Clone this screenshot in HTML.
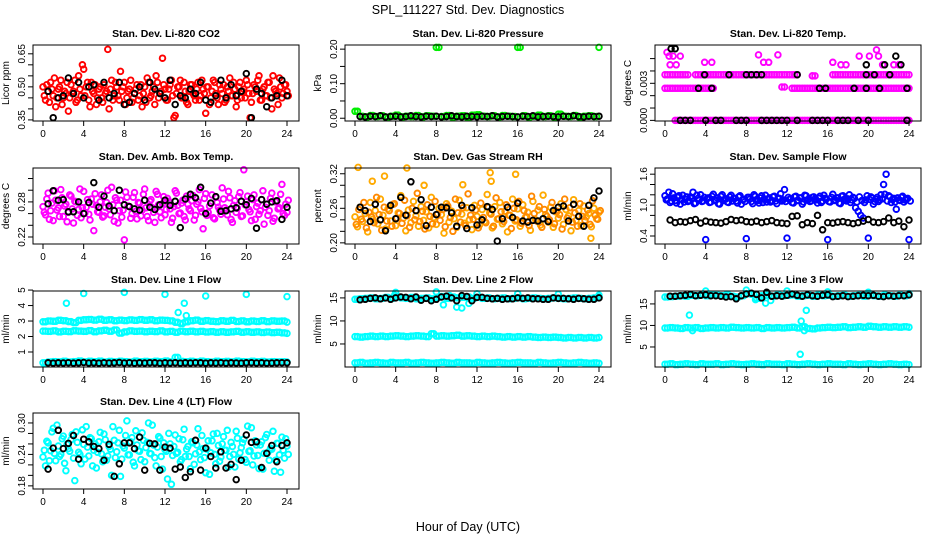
<!DOCTYPE html>
<html><head><meta charset="utf-8"><title>SPL_111227 Std. Dev. Diagnostics</title>
<style>
html,body{margin:0;padding:0;background:#fff;}
svg{display:block;font-family:"Liberation Sans",Arial,sans-serif;}
</style></head>
<body>
<svg id="chart" width="936" height="540" viewBox="0 0 936 540">
<text x="468" y="14" text-anchor="middle" font-size="12.5">SPL_111227  Std. Dev. Diagnostics</text>
<text x="468" y="531" text-anchor="middle" font-size="12.5">Hour of Day (UTC)</text>
</svg>
<script>
// ---------- data ----------
const co2Red=[0.50,0.44,0.48,0.52,0.46,0.41,0.49,0.53,0.45,0.47,0.39,0.51,0.48,0.43,0.55,0.46,0.58,0.50,0.44,0.52,0.47,0.42,0.49,0.45,0.51,0.48,0.40,0.53,0.46,0.50,0.44,0.48,0.52,0.45,0.49,0.43,0.47,0.51,0.46,0.41,0.50,0.54,0.45,0.48,0.42,0.52,0.47,0.63,0.49,0.44,0.51,0.46,0.37,0.50,0.53,0.45,0.48,0.42,0.51,0.47,0.44,0.52,0.46,0.49,0.38,0.50,0.45,0.53,0.47,0.42,0.49,0.51,0.44,0.48,0.46,0.52,0.41,0.50,0.45,0.49,0.53,0.47,0.43,0.51,0.48,0.55,0.44,0.50,0.46,0.52,0.40,0.49,0.47,0.54,0.45,0.51,0.48];
const co2Red2=[0.46,0.51,0.43,0.49,0.54,0.45,0.50,0.42,0.48,0.52,0.45,0.47,0.53,0.44,0.49,0.60,0.46,0.52,0.41,0.48,0.51,0.45,0.50,0.43,0.47,0.67,0.49,0.44,0.52,0.46,0.57,0.50,0.42,0.48,0.53,0.45,0.49,0.44,0.51,0.47,0.43,0.52,0.46,0.50,0.55,0.45,0.48,0.51,0.44,0.49,0.53,0.36,0.47,0.50,0.45,0.52,0.43,0.48,0.51,0.46,0.49,0.44,0.53,0.47,0.50,0.42,0.48,0.52,0.45,0.51,0.47,0.43,0.50,0.54,0.46,0.49,0.44,0.52,0.48,0.45,0.51,0.36,0.47,0.50,0.53,0.44,0.49,0.46,0.52,0.45,0.55,0.48,0.42,0.50,0.47,0.51,0.46];
const co2Black=[0.48,0.36,0.45,0.46,0.54,0.47,0.52,0.45,0.50,0.51,0.44,0.52,0.45,0.47,0.52,0.42,0.43,0.47,0.50,0.44,0.52,0.49,0.47,0.45,0.53,0.42,0.46,0.45,0.49,0.47,0.52,0.44,0.43,0.46,0.53,0.45,0.51,0.46,0.48,0.56,0.36,0.49,0.47,0.41,0.45,0.46,0.53,0.46];
const presGreen=[0.02,0.006,0.004,0.008,0.005,0.007,0.003,0.006,0.009,0.004,0.006,0.005,0.008,0.004,0.007,0.006,0.205,0.005,0.008,0.004,0.006,0.007,0.003,0.009,0.010,0.006,0.005,0.007,0.004,0.008,0.006,0.005,0.205,0.007,0.004,0.006,0.009,0.005,0.007,0.004,0.012,0.006,0.005,0.008,0.004,0.006,0.007,0.005,0.205];
const presBlack=[0.005,0.004,0.006,0.005,0.007,0.004,0.005,0.006,0.004,0.005,0.007,0.005,0.004,0.006,0.005,0.006,0.004,0.005,0.007,0.005,0.004,0.006,0.005,0.004,0.006,0.005,0.007,0.004,0.005,0.006,0.005,0.004,0.006,0.005,0.007,0.004,0.005,0.006,0.005,0.004,0.006,0.005,0.007,0.005,0.004,0.006,0.005,0.006];
const N=null;
const tempLvl0=[N,N,0,0,0,0,0,0,0,0,0,0,0,0,0,0,0,0,0,0,0,0,0,0,0,0,0,0,0,0,0,0,0,0,0,0,0,0,0,0,0,0,0,0,0,0,0,0,0];
const tempLvl26=[0.0026,0.0026,0.0026,0.0026,0.0026,0.0026,0.0026,0.0026,0.0026,0.0026,N,N,N,N,N,N,N,N,N,N,N,N,N,0.0027,N,0.0026,0.0026,0.0026,0.0026,0.0026,0.0026,0.0026,0.0026,0.0026,0.0026,0.0026,0.0026,0.0026,0.0026,0.0026,0.0026,0.0026,0.0026,0.0026,0.0026,0.0026,0.0026,0.0026,0.0026];
const tempLvl37=[0.0037,0.0037,0.0037,0.0037,0.0037,N,0.0037,0.0037,0.0037,0.0037,0.0037,0.0037,0.0037,0.0037,0.0037,0.0037,0.0037,0.0037,0.0037,0.0037,0.0037,0.0037,0.0037,0.0037,0.0037,0.0037,N,N,N,0.0036,N,N,N,0.0037,0.0037,0.0037,0.0037,0.0037,0.0037,0.0037,0.0037,0.0037,0.0037,0.0037,0.0037,0.0037,0.0037,0.0037,0.0037];
const tempMagX=[0.2,0.4,0.8,1.5,0.5,1.1,3.9,4.6,9.2,9.7,10.2,11.1,16.5,17.3,17.8,19.1,20.1,20.8,21.0,21.4,22.5,23.0,13.0,14.5];
const tempMagY=[0.0055,0.0052,0.0052,0.0052,0.0045,0.0045,0.0047,0.0047,0.0053,0.0047,0.0047,0.0053,0.0047,0.0045,0.0045,0.0052,0.0052,0.0057,0.0052,0.0045,0.0045,0.0045,0.0037,0.0036];
const tempBlackX=[1.5,2,2.5,4,5,5.5,7,7.5,8,9.5,10,10.5,11,11.5,12,13,14.5,15,15.5,16,17,17.5,18,19,20,23.8,3.3,4.6,15.2,15.8,18.6,19.8,21.1,23.8,3.9,6.3,8,8.5,9,9.5,13,19.8,20.6,22.1,0.6,1.0,19.8,21.6,23.2,22.7];
const tempBlackY=[0,0,0,0,0,0,0,0,0,0,0,0,0,0,0,0,0,0,0,0,0,0,0,0,0,0,0.0026,0.0026,0.0026,0.0026,0.0026,0.0026,0.0026,0.0026,0.0037,0.0037,0.0037,0.0037,0.0037,0.0037,0.0037,0.0037,0.0037,0.0037,0.0058,0.0058,0.0045,0.0045,0.0045,0.0052];
const ambMag=[0.272,0.258,0.295,0.265,0.248,0.283,0.270,0.301,0.255,0.276,0.262,0.290,0.244,0.280,0.267,0.253,0.298,0.271,0.259,0.285,0.231,0.274,0.262,0.292,0.256,0.279,0.268,0.305,0.247,0.283,0.265,0.254,0.215,0.288,0.272,0.260,0.296,0.251,0.278,0.266,0.302,0.255,0.281,0.270,0.245,0.293,0.263,0.277,0.258,0.286,0.268,0.252,0.299,0.274,0.261,0.283,0.249,0.276,0.265,0.291,0.257,0.280,0.269,0.234,0.294,0.262,0.278,0.253,0.288,0.271,0.259,0.285,0.266,0.298,0.250,0.274,0.262,0.289,0.255,0.335,0.280,0.267,0.248,0.292,0.272,0.259,0.284,0.242,0.276,0.265,0.295,0.252,0.281,0.270,0.310,0.257,0.262];
const ambMag2=[0.262,0.285,0.250,0.278,0.299,0.266,0.255,0.287,0.273,0.246,0.292,0.268,0.281,0.257,0.302,0.270,0.261,0.284,0.249,0.276,0.294,0.263,0.280,0.254,0.271,0.300,0.258,0.275,0.287,0.244,0.283,0.266,0.297,0.273,0.252,0.288,0.264,0.279,0.256,0.293,0.270,0.248,0.284,0.262,0.298,0.275,0.253,0.289,0.267,0.281,0.245,0.272,0.295,0.260,0.278,0.255,0.290,0.268,0.282,0.249,0.276,0.301,0.263,0.286,0.257,0.273,0.292,0.251,0.279,0.266,0.304,0.270,0.258,0.287,0.245,0.282,0.269,0.296,0.256,0.275,0.290,0.263,0.284,0.250,0.278,0.265,0.299,0.271,0.257,0.286,0.247,0.280,0.268,0.293,0.260,0.276,0.283];
const ambBlack=[0.277,0.299,0.283,0.284,0.263,0.263,0.280,0.260,0.279,0.313,0.271,0.290,0.273,0.265,0.300,0.275,0.272,0.268,0.266,0.283,0.271,0.267,0.275,0.283,0.274,0.281,0.236,0.285,0.293,0.287,0.305,0.260,0.278,0.289,0.264,0.265,0.268,0.270,0.281,0.275,0.286,0.235,0.284,0.276,0.280,0.282,0.250,0.271];
const rhOrange=[0.245,0.228,0.262,0.237,0.251,0.219,0.270,0.241,0.256,0.233,0.276,0.248,0.224,0.259,0.238,0.267,0.230,0.252,0.282,0.243,0.221,0.257,0.235,0.272,0.247,0.229,0.263,0.239,0.254,0.226,0.279,0.244,0.232,0.260,0.249,0.217,0.268,0.236,0.255,0.242,0.227,0.274,0.250,0.234,0.261,0.240,0.223,0.265,0.246,0.231,0.258,0.237,0.284,0.252,0.226,0.263,0.241,0.270,0.233,0.255,0.219,0.248,0.276,0.238,0.259,0.229,0.266,0.244,0.253,0.222,0.272,0.240,0.257,0.231,0.283,0.249,0.236,0.262,0.227,0.254,0.243,0.268,0.232,0.258,0.247,0.221,0.275,0.239,0.256,0.230,0.264,0.245,0.251,0.228,0.260,0.242,0.253];
const rhOrange2=[0.232,0.258,0.241,0.270,0.226,0.253,0.245,0.235,0.279,0.249,0.222,0.262,0.238,0.256,0.229,0.268,0.243,0.251,0.234,0.274,0.247,0.227,0.260,0.240,0.286,0.237,0.255,0.224,0.266,0.246,0.233,0.272,0.250,0.239,0.258,0.228,0.264,0.244,0.220,0.276,0.252,0.236,0.261,0.230,0.285,0.248,0.241,0.257,0.226,0.269,0.244,0.235,0.262,0.250,0.229,0.278,0.242,0.254,0.237,0.266,0.248,0.225,0.260,0.240,0.272,0.234,0.256,0.245,0.230,0.281,0.251,0.238,0.263,0.227,0.258,0.246,0.240,0.270,0.233,0.255,0.249,0.224,0.276,0.243,0.261,0.236,0.252,0.229,0.268,0.246,0.239,0.257,0.232,0.273,0.248,0.241,0.256];
const rhExtraX=[0.3,5.1,13.3,15.8,2.9,1.7,13.4,23.2,6.8,10.6];
const rhExtraY=[0.331,0.330,0.322,0.319,0.316,0.307,0.307,0.208,0.300,0.301];
const rhBlack=[0.262,0.256,0.237,0.267,0.240,0.221,0.265,0.242,0.279,0.248,0.306,0.256,0.275,0.230,0.262,0.249,0.262,0.261,0.252,0.229,0.265,0.225,0.261,0.231,0.240,0.263,0.258,0.203,0.242,0.262,0.244,0.269,0.238,0.236,0.239,0.238,0.242,0.237,0.256,0.262,0.264,0.238,0.267,0.246,0.229,0.265,0.278,0.290];
const flowBlue=[1.18,1.12,1.05,1.22,1.09,1.15,1.02,1.19,1.11,1.07,1.16,1.25,1.04,1.13,1.20,1.08,0.33,1.14,1.06,1.21,1.10,1.03,1.17,1.09,1.12,1.05,1.19,1.13,1.08,1.16,1.02,1.11,0.35,1.15,1.07,1.20,1.10,1.04,1.18,1.12,1.06,1.14,1.09,1.17,1.03,1.13,1.08,1.30,0.36,1.11,1.05,1.16,1.09,1.14,1.02,1.19,1.10,1.07,1.15,1.12,1.04,1.17,1.08,1.13,0.33,1.06,1.21,1.10,1.14,1.03,1.18,1.09,1.12,1.05,1.15,0.95,0.88,0.80,0.75,1.10,0.36,1.16,1.02,1.11,1.07,1.20,1.40,1.60,1.18,1.05,1.13,0.92,1.10,1.15,1.06,1.12,0.33];
const flowBlue2=[1.10,1.25,1.08,1.14,1.04,1.18,1.11,1.06,1.16,1.09,1.13,1.03,1.19,1.10,1.07,1.15,1.12,1.05,1.17,1.09,1.14,1.02,1.20,1.11,1.06,1.16,1.08,1.13,1.04,1.18,1.10,1.07,1.15,1.12,1.03,1.17,1.09,1.14,1.05,1.19,1.11,1.06,1.16,1.08,1.13,1.22,1.10,1.07,1.15,1.12,1.04,1.17,1.09,1.14,1.06,1.18,1.11,1.08,1.16,1.10,1.13,1.05,1.19,1.12,1.07,1.15,1.09,1.14,1.04,1.17,1.11,1.08,1.20,1.10,1.13,1.06,1.16,1.09,1.05,1.18,1.11,1.14,1.07,1.15,1.10,1.12,1.21,1.08,1.16,1.11,1.06,1.14,1.09,1.17,1.10,1.13,1.08];
const flowBlack=[0.71,0.66,0.68,0.67,0.70,0.72,0.65,0.69,0.67,0.66,0.65,0.68,0.72,0.70,0.71,0.68,0.67,0.69,0.66,0.68,0.70,0.66,0.65,0.64,0.78,0.79,0.62,0.66,0.64,0.80,0.52,0.66,0.65,0.67,0.68,0.66,0.64,0.66,0.69,0.72,0.67,0.66,0.68,0.75,0.66,0.69,0.58,0.71];
const l1High=[2.95,3.00,2.98,3.05,3.02,2.96,2.90,3.04,3.08,3.10,3.06,3.12,3.05,3.08,3.02,3.06,3.03,3.07,3.04,3.09,3.05,3.08,3.02,3.06,3.04,3.01,2.92,2.85,2.95,3.02,3.06,2.98,3.03,2.99,2.96,3.02,2.98,3.04,2.97,3.01,2.95,3.00,2.97,3.02,2.96,3.01,2.98,3.00,2.93];
const l1Mid=[2.35,2.33,2.36,2.30,2.34,2.32,2.37,2.35,2.33,2.38,2.31,2.36,2.40,2.34,2.42,2.22,2.30,2.36,2.33,2.35,2.31,2.34,2.32,2.36,2.30,2.33,2.28,2.35,2.31,2.34,2.30,2.33,2.29,2.32,2.28,2.31,2.27,2.30,2.33,2.28,2.31,2.27,2.30,2.26,2.29,2.25,2.28,2.23,2.20];
const l1Low=[0.30,0.35,0.38,0.36,0.40,0.35,0.38,0.42,0.36,0.40,0.37,0.41,0.35,0.39,0.36,0.40,0.38,0.35,0.41,0.37,0.39,0.36,0.40,0.38,0.42,0.36,0.65,0.39,0.37,0.40,0.36,0.41,0.38,0.35,0.40,0.37,0.39,0.36,0.41,0.38,0.36,0.40,0.37,0.39,0.35,0.38,0.36,0.37,0.35];
const l1ExtraX=[2.3,4,8,12,16,20,24,13.9,13.3,14.1];
const l1ExtraY=[4.15,4.78,4.85,4.72,4.62,4.72,4.58,4.15,3.55,3.35];
const l1Black=[0.30,0.28,0.30,0.29,0.31,0.28,0.30,0.32,0.29,0.30,0.28,0.31,0.29,0.30,0.32,0.29,0.31,0.28,0.30,0.29,0.31,0.30,0.28,0.30,0.29,0.31,0.28,0.30,0.29,0.31,0.30,0.28,0.30,0.29,0.31,0.28,0.30,0.29,0.28,0.30,0.31,0.29,0.30,0.28,0.29,0.30,0.31,0.30];
const l2High=[14.7,14.8,14.9,15.0,14.8,14.9,15.1,14.9,15.2,15.0,14.9,15.1,14.8,14.9,15.0,14.8,15.1,15.3,14.9,15.2,15.0,15.1,15.2,14.9,15.1,14.9,15.0,14.8,14.9,15.0,14.8,14.9,15.0,14.8,14.9,15.0,14.9,14.8,14.9,15.0,14.9,14.8,14.9,15.0,14.9,14.8,14.9,15.0,15.2];
const l2Mid=[6.6,6.5,6.6,6.7,6.6,6.7,6.6,6.7,6.8,6.7,6.6,6.7,6.8,6.7,6.6,7.2,6.7,6.8,6.7,6.8,6.9,6.7,6.8,6.7,6.6,6.7,6.6,6.7,6.6,6.5,6.6,6.5,6.6,6.5,6.6,6.5,6.4,6.5,6.4,6.5,6.4,6.3,6.4,6.3,6.4,6.3,6.4,6.3,6.4];
const l2Low=[0.9,1.0,0.8,0.9,1.0,0.9,0.8,1.0,0.9,0.9,1.0,0.8,0.9,1.0,0.9,0.8,0.9,1.0,0.9,0.8,1.0,0.9,0.9,0.8,1.0,0.9,0.8,0.9,1.0,0.9,0.8,0.9,1.0,0.9,0.9,0.8,1.0,0.9,0.8,0.9,1.0,0.9,0.8,0.9,1.0,0.9,0.8,0.9,0.8];
const l2ExtraX=[4,8,12,16,20,24,8.7,10,10.5,11.2,3.9,9.3];
const l2ExtraY=[16.2,16.3,15.9,15.9,15.8,15.6,13.5,13.0,12.8,13.8,15.6,15.5];
const l2Black=[14.6,14.7,14.9,15.0,14.8,15.0,14.7,15.0,15.2,15.1,14.8,15.2,14.5,14.9,14.4,14.7,15.2,15.4,15.0,14.4,15.5,15.3,14.4,15.1,15.1,14.9,14.8,14.9,14.7,14.8,14.8,15.0,14.9,15.0,14.8,14.8,14.7,14.7,15.0,14.9,14.9,14.8,14.7,14.9,14.8,14.7,14.7,15.0];
const l3High=[16.6,16.7,16.8,16.9,16.8,17.0,16.9,17.1,16.9,17.2,17.0,16.9,17.1,16.8,16.6,16.9,17.4,17.2,16.3,16.9,17.0,16.8,17.1,16.9,17.0,17.1,16.8,16.9,17.0,16.8,17.1,16.9,17.0,16.8,16.9,17.0,16.8,16.9,17.0,16.8,17.1,16.9,16.8,17.0,16.9,16.8,17.0,16.9,17.1];
const l3Mid=[9.4,9.5,9.4,9.3,9.5,9.4,9.5,9.3,9.4,9.5,9.4,9.5,9.4,9.6,9.5,9.4,9.5,9.4,9.5,9.3,9.5,9.4,9.5,9.4,9.5,9.6,9.4,9.7,9.3,9.2,9.4,9.5,9.6,9.5,9.6,9.7,9.5,9.6,9.7,9.6,9.8,9.7,9.6,9.7,9.6,9.7,9.6,9.7,9.6];
const l3Low=[1.0,1.1,0.9,1.0,1.1,1.0,0.9,1.1,1.0,1.0,1.1,0.9,1.0,1.1,1.0,0.9,1.0,1.1,1.0,0.9,1.1,1.0,1.0,0.9,1.1,1.0,0.9,1.0,1.1,1.0,0.9,1.0,1.1,1.0,1.0,0.9,1.1,1.0,0.9,1.0,1.1,1.0,0.9,1.0,1.1,1.0,0.9,1.0,0.9];
const l3ExtraX=[2.4,13.3,13.4,13.9,13.7,2.7,9.9,4,8,12,16,20,24,8.9,10.4];
const l3ExtraY=[12.4,3.3,11.0,13.5,8.8,8.8,15.2,18.0,18.2,18.0,17.8,17.7,17.4,16.0,15.8];
const l3Black=[16.8,16.8,16.9,17.0,17.2,16.9,17.0,17.1,16.9,16.9,16.8,16.6,16.7,16.2,16.9,17.3,17.5,17.2,16.4,17.7,16.8,16.9,16.8,17.0,17.3,17.0,16.8,17.1,16.9,16.8,17.0,17.1,16.7,16.8,16.9,16.7,16.8,16.9,17.0,16.9,17.0,16.8,16.7,16.9,16.8,16.9,16.9,17.1];
const l4Cyan=[0.235,0.218,0.262,0.247,0.290,0.228,0.256,0.240,0.275,0.209,0.251,0.268,0.233,0.283,0.244,0.222,0.259,0.293,0.237,0.270,0.248,0.214,0.264,0.241,0.279,0.229,0.255,0.200,0.267,0.245,0.286,0.231,0.252,0.304,0.239,0.272,0.218,0.258,0.246,0.281,0.226,0.263,0.242,0.296,0.234,0.254,0.271,0.212,0.249,0.193,0.260,0.238,0.277,0.244,0.226,0.268,0.236,0.255,0.213,0.262,0.241,0.289,0.230,0.251,0.205,0.266,0.243,0.279,0.222,0.257,0.235,0.274,0.248,0.216,0.263,0.240,0.284,0.231,0.253,0.269,0.225,0.246,0.291,0.237,0.258,0.213,0.264,0.242,0.278,0.229,0.250,0.208,0.261,0.239,0.273,0.233,0.256];
const l4Cyan2=[0.248,0.265,0.228,0.283,0.242,0.296,0.236,0.270,0.223,0.259,0.246,0.278,0.190,0.263,0.240,0.287,0.231,0.254,0.272,0.218,0.260,0.244,0.282,0.226,0.268,0.237,0.250,0.293,0.234,0.262,0.198,0.256,0.276,0.239,0.264,0.225,0.285,0.247,0.230,0.267,0.253,0.300,0.241,0.258,0.218,0.274,0.236,0.262,0.246,0.280,0.183,0.255,0.242,0.270,0.230,0.288,0.250,0.236,0.264,0.221,0.258,0.245,0.276,0.234,0.250,0.202,0.266,0.240,0.280,0.227,0.260,0.248,0.286,0.236,0.255,0.216,0.271,0.243,0.262,0.230,0.294,0.247,0.220,0.266,0.238,0.258,0.212,0.272,0.244,0.252,0.284,0.229,0.261,0.206,0.248,0.270,0.240];
const l4Black=[0.212,0.252,0.286,0.251,0.261,0.276,0.231,0.269,0.264,0.255,0.251,0.229,0.259,0.198,0.222,0.262,0.262,0.251,0.273,0.210,0.261,0.260,0.210,0.254,0.252,0.212,0.216,0.196,0.207,0.267,0.210,0.252,0.236,0.214,0.245,0.214,0.221,0.192,0.229,0.277,0.263,0.264,0.215,0.242,0.257,0.226,0.257,0.262];
const xTicks=[0,4,8,12,16,20,24];

// ---------- layout ----------
const colLeft=[33,345,655], colW=266, rowTop=[45,168,291,413], rowH=76;
const svg=document.getElementById('chart');
const NS='http://www.w3.org/2000/svg';
function mk(tag,attrs,parent){const e=document.createElementNS(NS,tag);for(const k in attrs)e.setAttribute(k,attrs[k]);(parent||svg).appendChild(e);return e;}
function evenHours(n){const a=[];for(let i=0;i<n;i++)a.push(24*i/(n-1));return a;}
function blackHours(n){const a=[];for(let i=0;i<n;i++)a.push(0.5+23.5*i/(n-1));return a;}

function panel(name,title,ylab,col,row,ymin,ymax,ticks,labels,series){
  const L=colLeft[col],T=rowTop[row],R=L+colW,B=T+rowH;
  const g=mk('g',{});
  
  
  const xs=h=>L+10+h*(colW-22)/24;
  const ys=v=>B-(v-ymin)/(ymax-ymin)*rowH;
  const t=mk('text',{x:(L+R)/2,y:T-8,'text-anchor':'middle','font-size':'10.5','font-weight':'bold'},g);
  t.textContent=title;
  
  
  const yl=mk('text',{x:0,y:0,'text-anchor':'middle','font-size':'10',transform:`translate(${L-24},${(T+B)/2}) rotate(-90)`},g);
  yl.textContent=ylab;
  
  
  const pg=mk('g',{fill:'none'},g);
  
  
  series.forEach(s=>{
    const shifts=s.dup?[0,0.25]:[0];
    shifts.forEach(sh=>{
      for(let i=0;i<s.y.length;i++){
        if(s.y[i]===null)continue;
        if(s.x[i]+sh>24.2)continue;
        const c=mk('circle',{cx:xs(s.x[i]+sh).toFixed(1),cy:ys(s.y[i]).toFixed(1),r:s.r||2.8,stroke:s.c,'stroke-width':s.w||1.9},pg);
        
        
      }
    });
  });
  const bx=mk('rect',{x:L,y:T,width:colW,height:rowH,fill:'none',stroke:'#000','stroke-width':1},g);
  
  
  const xa=mk('g',{},g);
  
  
  xTicks.forEach(v=>{
    mk('line',{x1:xs(v),x2:xs(v),y1:B,y2:B+5,stroke:'#000'},xa);
    const tl=mk('text',{x:xs(v),y:B+16,'text-anchor':'middle','font-size':'10'},xa);
    tl.textContent=v;
  });
  const ya=mk('g',{},g);
  
  
  mk('line',{x1:L,x2:L,y1:ys(ticks[0]),y2:ys(ticks[ticks.length-1]),stroke:'#000'},ya);
  ticks.forEach(v=>{mk('line',{x1:L-5,x2:L,y1:ys(v),y2:ys(v),stroke:'#000'},ya);});
  labels.forEach(lb=>{
    const tl=mk('text',{x:0,y:0,'text-anchor':'middle','font-size':'10',transform:`translate(${L-8},${ys(parseFloat(lb))}) rotate(-90)`},ya);
    tl.textContent=lb;
  });
}
const H97=evenHours(97),H49=evenHours(49),HB=blackHours(48);
const RED='#ff0000',BLK='#000000',CY='#00ffff',MAG='#ff00ff';

panel('co2','Stan. Dev. Li-820 CO2','Licor ppm',0,0,0.345,0.69,[0.35,0.40,0.45,0.50,0.55,0.60,0.65],['0.35','0.50','0.65'],
 [{x:H97,y:co2Red,c:RED,n:'co2-red'},{x:H97.map(h=>h+0.125),y:co2Red2,c:RED,n:'co2-red'},{x:HB,y:co2Black,c:BLK,n:'co2-black'}]);
panel('pressure','Stan. Dev. Li-820 Pressure','kPa',1,0,-0.008,0.212,[0,0.05,0.10,0.15,0.20],['0.00','0.10','0.20'],
 [{x:H49,y:presGreen,c:'#00ee00',n:'pressure-green',dup:true},{x:HB,y:presBlack,c:BLK,n:'pressure-black'}]);
panel('temp','Stan. Dev. Li-820 Temp.','degrees C',2,0,-0.00005,0.0061,[0,0.001,0.002,0.003,0.004,0.005],['0.000','0.003'],
 [{x:H49,y:tempLvl0,c:MAG,n:'temp-magenta',dup:true},{x:H49,y:tempLvl26,c:MAG,n:'temp-magenta',dup:true},{x:H49,y:tempLvl37,c:MAG,n:'temp-magenta',dup:true},{x:tempMagX,y:tempMagY,c:MAG,n:'temp-magenta'},{x:tempBlackX,y:tempBlackY,c:BLK,n:'temp-black'}]);
panel('amb-box','Stan. Dev. Amb. Box Temp.','degrees C',0,1,0.208,0.338,[0.22,0.24,0.26,0.28,0.30,0.32],['0.22','0.28'],
 [{x:H97,y:ambMag,c:MAG,n:'amb-magenta'},{x:H97.map(h=>h+0.125),y:ambMag2,c:MAG,n:'amb-magenta'},{x:HB,y:ambBlack,c:BLK,n:'amb-black'}]);
panel('rh','Stan. Dev. Gas Stream RH','percent',1,1,0.198,0.330,[0.20,0.22,0.24,0.26,0.28,0.30,0.32],['0.20','0.26','0.32'],
 [{x:H97,y:rhOrange,c:'#ffaa00',n:'rh-orange'},{x:H97.map(h=>h+0.125),y:rhOrange2,c:'#ff8800',n:'rh-orange'},{x:rhExtraX,y:rhExtraY,c:'#ffaa00',n:'rh-orange'},{x:HB,y:rhBlack,c:BLK,n:'rh-black'}]);
panel('sample-flow','Stan. Dev. Sample Flow','ml/min',2,1,0.245,1.72,[0.4,0.6,0.8,1.0,1.2,1.4,1.6],['0.4','1.0','1.6'],
 [{x:H97,y:flowBlue,c:'#0000ff',n:'flow-blue'},{x:H97.map(h=>h+0.125),y:flowBlue2,c:'#0000ff',n:'flow-blue'},{x:HB,y:flowBlack,c:BLK,n:'flow-black'}]);
panel('line1','Stan. Dev. Line 1 Flow','ml/min',0,2,0.03,4.94,[1,2,3,4,5],['1','2','3','4','5'],
 [{x:H49,y:l1High,c:CY,n:'line1-cyan',dup:true},{x:H49,y:l1Mid,c:CY,n:'line1-cyan',dup:true},{x:H49,y:l1Low,c:CY,n:'line1-cyan',dup:true},{x:l1ExtraX,y:l1ExtraY,c:CY,n:'line1-cyan'},{x:HB,y:l1Black,c:BLK,n:'line1-black'}]);
panel('line2','Stan. Dev. Line 2 Flow','ml/min',1,2,0,16.5,[5,10,15],['5','10','15'],
 [{x:H49,y:l2High,c:CY,n:'line2-cyan',dup:true},{x:H49,y:l2Mid,c:CY,n:'line2-cyan',dup:true},{x:H49,y:l2Low,c:CY,n:'line2-cyan',dup:true},{x:l2ExtraX,y:l2ExtraY,c:CY,n:'line2-cyan'},{x:HB,y:l2Black,c:BLK,n:'line2-black'}]);
panel('line3','Stan. Dev. Line 3 Flow','ml/min',2,2,0.35,18.0,[5,10,15],['5','10','15'],
 [{x:H49,y:l3High,c:CY,n:'line3-cyan',dup:true},{x:H49,y:l3Mid,c:CY,n:'line3-cyan',dup:true},{x:H49,y:l3Low,c:CY,n:'line3-cyan',dup:true},{x:l3ExtraX,y:l3ExtraY,c:CY,n:'line3-cyan'},{x:HB,y:l3Black,c:BLK,n:'line3-black'}]);
panel('line4','Stan. Dev. Line 4 (LT) Flow','ml/min',0,3,0.174,0.319,[0.18,0.20,0.22,0.24,0.26,0.28,0.30],['0.18','0.24','0.30'],
 [{x:H97,y:l4Cyan,c:CY,n:'line4-cyan'},{x:H97.map(h=>h+0.125),y:l4Cyan2,c:CY,n:'line4-cyan'},{x:HB,y:l4Black,c:BLK,n:'line4-black'}]);
</script>
</body></html>
